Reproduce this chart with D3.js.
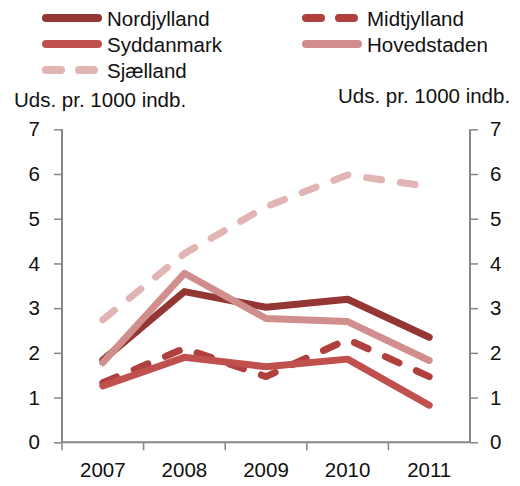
<!DOCTYPE html>
<html>
<head>
<meta charset="utf-8">
<script src="https://cdn.jsdelivr.net/npm/d3@7"></script>
<style>
  body { margin: 0; background: #fff; }
  svg text { font-family: "Liberation Sans", Arial, sans-serif; font-size: 20.5px; fill: #111; }
</style>
</head>
<body>
<svg id="chart" width="520" height="486"></svg>
<script>
var years = ["2007", "2008", "2009", "2010", "2011"];
var yTicks = [0, 1, 2, 3, 4, 5, 6, 7];
var regions = ["Nordjylland", "Midtjylland", "Syddanmark", "Hovedstaden", "Sjælland"];
var nordjylland = [1.84, 3.37, 3.02, 3.2, 2.35];
var midtjylland = [1.33, 2.1, 1.47, 2.3, 1.47];
var syddanmark = [1.26, 1.9, 1.69, 1.86, 0.83];
var hovedstaden = [1.78, 3.78, 2.77, 2.7, 1.83];
var sjaelland = [2.74, 4.22, 5.27, 5.98, 5.72];
var unitLabel = "Uds. pr. 1000 indb.";

var colors = ["#943634", "#b0403d", "#c0504d", "#d08e8c", "#e0b5b4"];
var dashed = [false, true, false, false, true];
var seriesValues = [nordjylland, midtjylland, syddanmark, hovedstaden, sjaelland];

var svg = d3.select("#chart");

var x = d3.scaleBand().domain(years).range([62, 470]);
var y = d3.scaleLinear().domain([0, 7]).range([442.3, 129.3]);

// axes
var axisColor = "#868686";
var left = svg.append("g").attr("transform", "translate(62,0)")
  .call(d3.axisLeft(y).tickValues(yTicks).tickFormat(d3.format("d")).tickSize(8).tickPadding(14));
var right = svg.append("g").attr("transform", "translate(470,0)")
  .call(d3.axisRight(y).tickValues(yTicks).tickFormat(d3.format("d")).tickSize(8).tickPadding(12));
var bottom = svg.append("g").attr("transform", "translate(0,442.3)")
  .call(d3.axisBottom(x).tickSize(0).tickPadding(20));

bottom.selectAll(".tick")
  .append("line")
  .attr("x1", -x.bandwidth() / 2)
  .attr("x2", -x.bandwidth() / 2)
  .attr("y2", 8);
bottom.append("line")
  .attr("x1", 470).attr("x2", 470).attr("y2", 8);

[left, right, bottom].forEach(function(g) {
  g.select(".domain").attr("stroke", axisColor).attr("stroke-width", 2);
  g.selectAll(".tick line").attr("stroke", axisColor).attr("stroke-width", 1.5);
  g.selectAll(".tick text").style("font-size", "20.5px").attr("fill", "#111");
});
left.select(".domain").attr("d", "M0," + y(7) + "V" + y(0));
right.select(".domain").attr("d", "M0," + y(7) + "V" + y(0));
bottom.select(".domain").attr("d", "M62,0H470");

svg.append("text").attr("x", 14).attr("y", 107).text(unitLabel);
svg.append("text").attr("x", 338).attr("y", 103).text(unitLabel);

// lines
var line = d3.line()
  .x(function(d, i) { return x(years[i]) + x.bandwidth() / 2; })
  .y(function(d) { return y(d); });

seriesValues.forEach(function(vals, i) {
  svg.append("path")
    .attr("d", line(vals))
    .attr("fill", "none")
    .attr("stroke", colors[i])
    .attr("stroke-width", 7)
    .attr("stroke-linecap", "round")
    .attr("stroke-linejoin", "round")
    .attr("stroke-dasharray", dashed[i] ? "15,19" : null);
});

// legend
var legendPos = [[42, 18], [302, 18], [42, 44], [302, 44], [42, 70]];
regions.forEach(function(name, i) {
  var g = svg.append("g").attr("transform", "translate(" + legendPos[i][0] + "," + legendPos[i][1] + ")");
  g.append("line")
    .attr("x1", 4).attr("x2", 56)
    .attr("stroke", colors[i])
    .attr("stroke-width", 8)
    .attr("stroke-linecap", "round")
    .attr("stroke-dasharray", dashed[i] ? "15,18" : null);
  g.append("text").attr("x", 65).attr("y", 8).text(name);
});
</script>
</body>
</html>
